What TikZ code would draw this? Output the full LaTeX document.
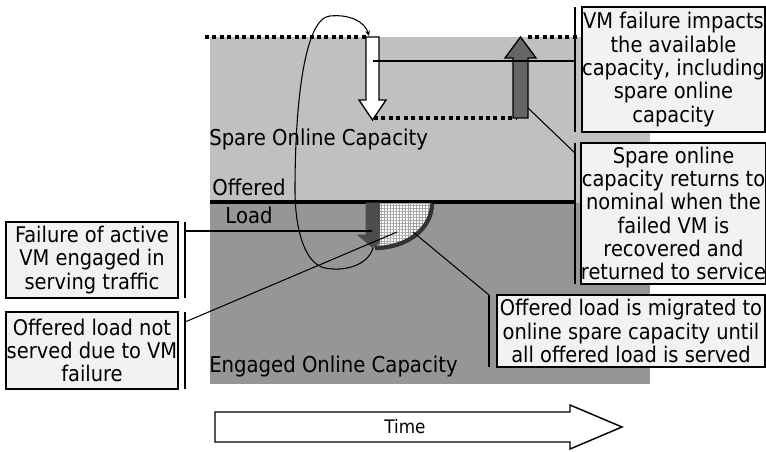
\documentclass[tikz,border=0pt]{standalone}
\usepackage{fontspec}
\setmainfont{DejaVu Sans Condensed}
\usetikzlibrary{arrows.meta,patterns.meta}
\definecolor{spare}{HTML}{C0C0C0}
\definecolor{engaged}{HTML}{969696}
\definecolor{uparrow}{HTML}{666666}
\definecolor{failarrow}{HTML}{4D4D4D}
\definecolor{boxfill}{HTML}{F2F2F2}
\definecolor{curvecol}{HTML}{333333}
\tikzset{
  note/.style={draw=black, line width=1.1pt, fill=boxfill, inner sep=0pt, align=center,
    font=\fontsize{16.2}{17.5}\selectfont},
  bracket/.style={draw=black, line width=1.1pt},
  conn/.style={draw=black, line width=0.8pt},
  dotline/.style={draw=black, line width=2.8pt, dash pattern=on 3pt off 2.6pt},
  label/.style={inner sep=0pt, font=\fontsize{16.4}{18}\selectfont},
}
\begin{document}
\begin{tikzpicture}[x=0.75pt, y=-0.75pt]
\useasboundingbox (0,0) rectangle (766,452);
% capacity areas
\fill[spare] (210,37) rectangle (650,203);
\fill[engaged] (210,203) rectangle (650,384);
% dotted capacity levels
\draw[dotline] (205,37) -- (366,37);
\draw[dotline] (528,37) -- (578,37);
\draw[dotline] (374,118) -- (517,118);
% offered load line
\draw[black, line width=3pt] (210,202) -- (575,202);
% white down arrow (capacity drop)
\draw[fill=white, line width=1pt] (366,37) -- (379,37) -- (379,100) -- (386,100) -- (372.5,120) -- (359,100) -- (366,100) -- cycle;
% up arrow (recovery)
\draw[fill=uparrow, line width=1pt] (513,118) -- (528,118) -- (528,58) -- (536,58) -- (520.5,37) -- (505,58) -- (513,58) -- cycle;
% small failure arrow
\draw[fill=failarrow, draw=failarrow, line width=0.6pt] (366,203) -- (380,203) -- (380,235) -- (388,235) -- (373,248) -- (358,235) -- (366,235) -- cycle;
% migrated load region
\fill[white] (380,203.5) -- (432,203.5) .. controls (432,228) and (408,248) .. (378,248) -- (380,246) -- cycle;
\fill[pattern={Hatch[angle=0,distance=2.2pt,line width=0.35pt]}, pattern color=gray!70] (380,203.5) -- (432,203.5) .. controls (432,228) and (408,248) .. (378,248) -- (380,246) -- cycle;
\draw[curvecol, line width=3.2pt] (432,203.5) .. controls (432,228) and (408,248) .. (375,248);
% named points
\coordinate (fail) at (373,248);
\coordinate (droptop) at (369,36);
\coordinate (dropmid) at (372.5,61);
\coordinate (upshaft) at (528,108);
\coordinate (failshaft) at (372,231);
\coordinate (hatchpt) at (397,232);
\coordinate (curvept) at (413,232);
% lasso connector
\draw[line width=0.8pt, -{Stealth[length=4pt,width=3.5pt]}] (fail) .. controls (368,265) and (345,272) .. (325,268)
  .. controls (305,264) and (295,230) .. (295,190)
  .. controls (295,100) and (305,18) .. (330,16)
  .. controls (350,14) and (365,22) .. (droptop);
% labels
\node[label, anchor=west] (spare) at (209,139) {Spare Online Capacity};
\node[label, anchor=west] (engaged) at (209,366) {Engaged Online Capacity};
\node[label, align=center, font=\fontsize{16.4}{21}\selectfont] (offered) at (249,201) {Offered\\Load};
% notes
\node[note, minimum width=137.25pt, minimum height=93.75pt] (n1) at (673.5,69.5)
  {VM failure impacts\\the available\\capacity, including\\spare online\\capacity};
\node[note, minimum width=137.25pt, minimum height=105.75pt] (n2) at (673.5,213.5)
  {Spare online\\capacity returns to\\nominal when the\\failed VM is\\recovered and\\returned to service};
\node[note, minimum width=129pt, minimum height=57pt] (n3) at (92,260)
  {Failure of active\\VM engaged in\\serving traffic};
\node[note, minimum width=129pt, minimum height=57.75pt] (n4) at (92,350.5)
  {Offered load not\\served due to VM\\failure};
\node[note, minimum width=201pt, minimum height=54pt] (n5) at (631,331)
  {Offered load is migrated to\\online spare capacity until\\all offered load is served};
% brackets
\coordinate (b1t) at (575,7); \coordinate (b1b) at (575,132);
\coordinate (b2t) at (575,143); \coordinate (b2b) at (575,284);
\coordinate (b3t) at (185,222); \coordinate (b3b) at (185,298);
\coordinate (b4t) at (185,312); \coordinate (b4b) at (185,389);
\coordinate (b5t) at (489,295); \coordinate (b5b) at (489,367);
\draw[bracket] (b1t) -- (b1b);
\draw[bracket] (b2t) -- (b2b);
\draw[bracket] (b3t) -- (b3b);
\draw[bracket] (b4t) -- (b4b);
\draw[bracket] (b5t) -- (b5b);
% connectors
\draw[conn] (575,61) -- (dropmid);
\draw[conn] (575,153) -- (upshaft);
\draw[conn] (185,231) -- (failshaft);
\draw[conn] (185,322) -- (hatchpt);
\draw[conn] (b5t) -- (curvept);
% time arrow
\draw[fill=white, line width=1.1pt] (215,412) -- (570,412) -- (570,405) -- (622,427) -- (570,449) -- (570,442) -- (215,442) -- cycle;
\node[font=\fontsize{14}{16}\selectfont] (time) at (405,427) {Time};
\end{tikzpicture}
\end{document}
